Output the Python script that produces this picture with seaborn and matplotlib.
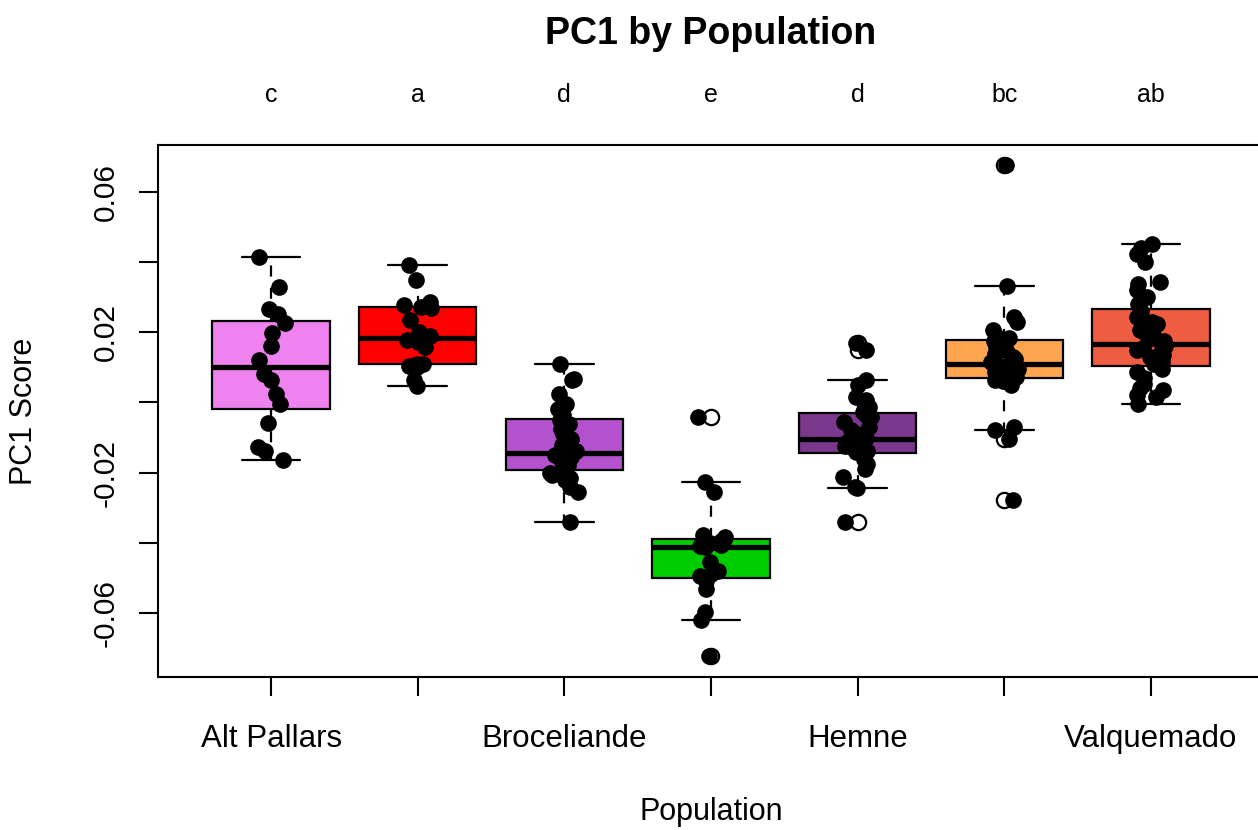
import numpy as np
import pandas as pd
import matplotlib
matplotlib.use("Agg")
import matplotlib.pyplot as plt
import matplotlib.transforms as mtransforms
import seaborn as sns

# ---------------- data ----------------
categories = ["Alt Pallars", "Pop 2", "Broceliande", "Pop 4", "Hemne", "Pop 6", "Valquemado"]
shown_labels = ["Alt Pallars", "", "Broceliande", "", "Hemne", "", "Valquemado"]
group_letters = ["c", "a", "d", "e", "d", "bc", "ab"]
colors = ["#EE82EE", "#FF0000", "#B452CD", "#00CD00", "#7A378B", "#FFA54F", "#EE5C42"]

alt_pallars = [0.0414, 0.0329, 0.0267, 0.0253, 0.0226, 0.0198, 0.0162, 0.0120,
               0.0082, 0.0063, 0.0023, -0.0005, -0.0060, -0.0127, -0.0137, -0.0165]
pop2 = [0.0391, 0.0348, 0.0286, 0.0277, 0.0272, 0.0268, 0.0234, 0.0200, 0.0188,
        0.0177, 0.0172, 0.0158, 0.0110, 0.0108, 0.0105, 0.0101, 0.0063, 0.0048]
broceliande = [0.0110, 0.0068, 0.0063, 0.0025, -0.0004, -0.0020, -0.0037,
               -0.0051, -0.0062, -0.0075, -0.0090, -0.0105, -0.0120, -0.0138,
               -0.0150, -0.0156, -0.0162, -0.0170, -0.0178, -0.0184, -0.0190,
               -0.0200, -0.0208, -0.0215, -0.0222, -0.0241, -0.0256, -0.0341]
pop4 = [-0.0042, -0.0227, -0.0256, -0.0379, -0.0384, -0.0390, -0.0395, -0.0400,
        -0.0405, -0.0410, -0.0413, -0.0455, -0.0479, -0.0490, -0.0495, -0.0510,
        -0.0530, -0.0598, -0.0621, -0.0721]
hemne = [0.0170, 0.0148, 0.0063, 0.0050, 0.0015, 0.0006, -0.0013, -0.0028,
         -0.0035, -0.0042, -0.0055, -0.0070, -0.0080, -0.0090, -0.0100,
         -0.0108, -0.0112, -0.0118, -0.0123, -0.0130, -0.0137, -0.0140,
         -0.0144, -0.0160, -0.0175, -0.0189, -0.0213, -0.0241, -0.0245, -0.0341]
pop6 = [0.0676, 0.0331, 0.0243, 0.0230, 0.0205, 0.0190, 0.0182,
        0.0176, 0.0158, 0.0148, 0.0139, 0.0130, 0.0125, 0.0115,
        0.0105, 0.0100, 0.0096, 0.0090, 0.0086, 0.0080, 0.0072,
        0.0065, 0.0060, 0.0050, -0.0070, -0.0080, -0.0104, -0.0279]
valquemado = [0.0452, 0.0440, 0.0424, 0.0400, 0.0343, 0.0338, 0.0319, 0.0300, 0.0280,
              0.0260, 0.0243, 0.0230, 0.0224, 0.0212, 0.0205, 0.0195, 0.0186, 0.0175,
              0.0160, 0.0155, 0.0148, 0.0143, 0.0135, 0.0129, 0.0120, 0.0115, 0.0108,
              0.0095, 0.0086, 0.0070, 0.0053, 0.0040, 0.0034, 0.0020, 0.0015, -0.0004]

series = [alt_pallars, pop2, broceliande, pop4, hemne, pop6, valquemado]
ytick_values = [-0.06, -0.04, -0.02, 0.0, 0.02, 0.04, 0.06]
ytick_labels = ["-0.06", "", "-0.02", "", "0.02", "", "0.06"]

df = pd.DataFrame({
    "Population": np.concatenate([[c] * len(v) for c, v in zip(categories, series)]),
    "PC1": np.concatenate(series),
})

# ---------------- style ----------------
sns.set_style("white")
plt.rcParams["font.family"] = ["Liberation Sans", "DejaVu Sans"]
plt.rcParams["text.color"] = "black"
plt.rcParams["axes.labelcolor"] = "black"
plt.rcParams["xtick.color"] = "black"
plt.rcParams["ytick.color"] = "black"

W, H = 1258, 830
fig = plt.figure(figsize=(W / 100, H / 100), dpi=100)
ax_left, ax_right, ax_top, ax_bottom = 158, 1264, 145, 677
ax = fig.add_axes([ax_left / W, 1 - ax_bottom / H, (ax_right - ax_left) / W, (ax_bottom - ax_top) / H])

sns.boxplot(
    data=df, x="Population", y="PC1", hue="Population", order=categories,
    hue_order=categories, palette=colors, saturation=1, legend=False, width=0.8,
    whis=1.5, linecolor="black", linewidth=1.6, ax=ax,
    medianprops=dict(color="black", linewidth=3.8),
    whiskerprops=dict(color="black", linewidth=1.6, linestyle=(0, (5, 5))),
    capprops=dict(color="black", linewidth=1.6),
    flierprops=dict(marker="o", markerfacecolor="white", markeredgecolor="black",
                    markersize=11, markeredgewidth=1.6),
)

np.random.seed(7)
sns.stripplot(
    data=df, x="Population", y="PC1", order=categories, color="black",
    size=12, jitter=0.1, linewidth=0, ax=ax, zorder=5,
)

ax.set_xlim(-0.771, len(categories) - 1 + 0.771)
ax.set_ylim(-0.0782, 0.0733)
ax.set_yticks(ytick_values)
ax.set_yticklabels(ytick_labels, rotation=90, va="center", fontsize=21.5)
ax.set_xticks(range(len(categories)))
ax.set_xticklabels(shown_labels, fontsize=22.5)
ax.tick_params(axis="both", direction="out", length=13.5, width=1.5, color="black",
               left=True, bottom=True)
ax.tick_params(axis="x", pad=20)
ax.tick_params(axis="y", pad=14)

for s in ax.spines.values():
    s.set_visible(True)
    s.set_color("black")
    s.set_linewidth(1.5)

ax.set_xlabel("Population", fontsize=22)
ax.set_ylabel("PC1 Score", fontsize=22)
ax.xaxis.set_label_coords(((ax_left + ax_right) / 2) / W, 1 - 812 / H, transform=fig.transFigure)
ax.xaxis.label.set_va("center")
ax.yaxis.set_label_coords(24 / W, 1 - 411 / H, transform=fig.transFigure)
ax.yaxis.label.set_va("center")

fig.text(((ax_left + ax_right) / 2) / W, 1 - 34 / H, "PC1 by Population",
         fontsize=27, fontweight="bold", ha="center", va="center")

trans = mtransforms.blended_transform_factory(ax.transData, fig.transFigure)
for i, letter in enumerate(group_letters):
    ax.text(i, 1 - 95 / H, letter, transform=trans, ha="center", va="center", fontsize=18)

fig.savefig("out.png", dpi=100, facecolor="white")
